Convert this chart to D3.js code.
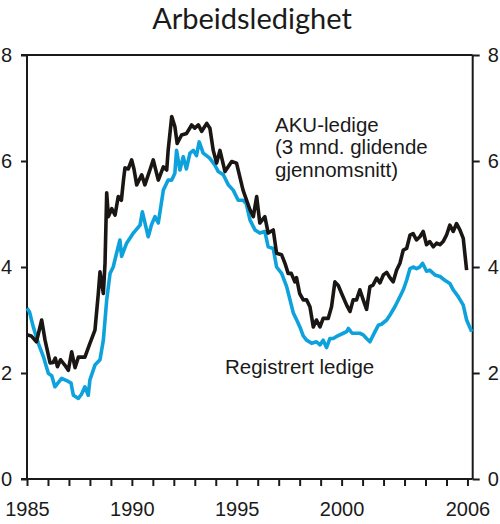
<!DOCTYPE html>
<html>
<head>
<meta charset="utf-8">
<script src="https://cdn.jsdelivr.net/npm/d3@7"></script>
<style>
body { margin: 0; background: #fff; }
svg { display: block; }
</style>
</head>
<body>
<svg id="chart" width="500" height="524"></svg>
<script>
// AKU-ledige, 3 mnd. glidende snitt (prosent av arbeidsstyrken)
var akuYears = [1985.0,1985.2,1985.45,1985.7,1985.86,1986.1,1986.25,1986.35,1986.45,1986.6,1986.8,1986.97,
	1987.13,1987.29,1987.45,1987.76,1988.0,1988.24,1988.4,1988.48,1988.64,1988.72,1988.8,1988.88,
	1989.04,1989.2,1989.35,1989.5,1989.6,1989.67,1989.83,1989.99,1990.1,1990.23,1990.47,1990.62,
	1990.86,1991.02,1991.26,1991.5,1991.66,1991.73,1991.9,1992.05,1992.16,1992.37,1992.61,1992.85,
	1993.0,1993.17,1993.33,1993.57,1993.72,1993.88,1994.04,1994.2,1994.44,1994.76,1994.99,1995.3,
	1995.63,1995.79,1995.95,1996.1,1996.34,1996.5,1996.74,1996.9,1997.14,1997.3,1997.45,1997.6,
	1997.77,1997.85,1998.0,1998.17,1998.33,1998.49,1998.65,1998.8,1998.97,1999.12,1999.36,1999.52,
	1999.68,1999.84,2000.0,2000.24,2000.4,2000.55,2000.71,2000.87,2001.03,2001.19,2001.35,2001.5,
	2001.67,2001.83,2001.99,2002.15,2002.3,2002.46,2002.62,2002.78,2002.94,2003.1,2003.26,2003.41,
	2003.57,2003.73,2003.89,2004.05,2004.2,2004.37,2004.53,2004.69,2004.84,2005.0,2005.16,2005.32,
	2005.48,2005.64,2005.8,2005.96];
var akuValues = [2.72,2.70,2.59,3.00,2.62,2.19,2.20,2.28,2.12,2.25,2.15,2.05,
	2.40,2.10,2.30,2.30,2.56,2.81,3.50,3.91,3.50,4.07,5.40,4.95,
	5.10,4.98,5.33,5.26,5.64,5.87,5.85,6.02,5.85,5.55,5.74,5.55,
	5.83,6.02,5.64,5.89,5.83,6.20,6.84,6.65,6.33,6.49,6.52,6.68,
	6.62,6.68,6.56,6.71,6.62,6.20,5.96,6.20,5.80,5.99,5.96,5.45,
	5.08,4.95,5.33,4.83,4.95,4.64,4.70,4.26,4.23,4.07,3.88,3.88,
	3.72,3.80,3.50,3.38,3.38,3.25,2.87,3.00,2.87,3.03,3.03,3.25,
	3.72,3.65,3.50,3.28,3.16,3.38,3.38,3.57,3.38,3.20,3.63,3.66,
	3.79,3.70,3.85,3.90,3.80,3.72,3.94,4.07,4.32,4.35,4.60,4.63,
	4.51,4.57,4.67,4.42,4.48,4.38,4.45,4.42,4.48,4.60,4.79,4.67,
	4.82,4.70,4.54,3.94];

// Registrert ledige
var regYears = [1985.0,1985.12,1985.3,1985.54,1985.78,1986.02,1986.18,1986.33,1986.65,1986.97,1987.1,1987.21,
	1987.45,1987.6,1987.76,1987.92,1988.0,1988.24,1988.48,1988.64,1988.8,1988.96,1989.11,1989.27,
	1989.43,1989.51,1989.75,1990.07,1990.39,1990.5,1990.78,1990.94,1991.1,1991.26,1991.5,1991.73,
	1991.9,1992.05,1992.13,1992.29,1992.45,1992.6,1992.77,1992.93,1993.08,1993.21,1993.4,1993.56,
	1993.72,1993.96,1994.12,1994.36,1994.6,1994.83,1995.07,1995.3,1995.45,1995.63,1995.87,1996.1,
	1996.34,1996.5,1996.74,1996.9,1997.14,1997.38,1997.54,1997.7,1997.86,1998.01,1998.17,1998.33,
	1998.57,1998.8,1998.97,1999.12,1999.28,1999.44,1999.6,1999.76,2000.08,2000.24,2000.32,2000.5,
	2000.71,2000.87,2001.03,2001.19,2001.35,2001.59,2001.75,2001.9,2002.15,2002.3,2002.54,2002.78,
	2002.94,2003.1,2003.26,2003.41,2003.57,2003.73,2003.86,2004.05,2004.2,2004.45,2004.69,2004.92,
	2005.16,2005.32,2005.56,2005.8,2005.96,2006.2];
var regValues = [3.22,3.15,2.87,2.56,2.31,1.99,1.95,1.74,1.90,1.84,1.81,1.58,
	1.52,1.60,1.74,1.58,1.87,2.15,2.25,2.62,3.38,3.88,4.00,4.26,
	4.51,4.20,4.45,4.64,4.79,5.04,4.57,4.80,4.95,4.83,5.45,5.64,
	5.64,5.77,6.20,5.83,6.08,5.85,6.15,6.20,6.10,6.36,6.15,6.10,
	6.05,5.92,5.80,5.74,5.55,5.45,5.26,5.26,5.20,4.89,4.70,4.64,
	4.67,4.38,4.35,4.00,3.88,3.63,3.38,3.13,3.00,2.87,2.70,2.62,
	2.56,2.59,2.53,2.62,2.48,2.65,2.65,2.69,2.75,2.78,2.84,2.75,
	2.75,2.75,2.72,2.65,2.59,2.78,2.90,2.92,3.00,3.09,3.25,3.44,
	3.57,3.75,3.97,4.00,3.97,4.00,4.07,3.92,3.94,3.85,3.82,3.75,
	3.69,3.57,3.44,3.28,3.00,2.78];

var yTicks = [0,2,4,6,8];
var xTicks = d3.range(1985, 2007);
var xLabels = [1985,1990,1995,2000,2006];

var title = 'Arbeidsledighet';
var akuLabel = ['AKU-ledige','(3 mnd. glidende','gjennomsnitt)'];
var regLabel = 'Registrert ledige';

var font = '"Liberation Sans", Arial, sans-serif';
var svg = d3.select('#chart');

var x = d3.scaleLinear().domain([1985, 2006.25]).range([27, 472.7]);
var y = d3.scaleLinear().domain([0, 8]).range([479, 55]);

//title
svg.append('text')
	.text(title)
	.attr('x', 252)
	.attr('y', 28.5)
	.attr('text-anchor', 'middle')
	.attr('font-family', 'Lato, "Open Sans", sans-serif')
	.attr('font-size', 29)
	.attr('fill', '#1a1a1a');

//top frame line
svg.append('line')
	.attr('x1', 21).attr('x2', x.range()[1])
	.attr('y1', y(8)).attr('y2', y(8))
	.attr('stroke', '#1a1a1a')
	.attr('stroke-width', 2);

//left axis
var left = svg.append('g')
	.attr('transform', 'translate(' + x.range()[0] + ',0)')
	.call(d3.axisLeft(y).tickValues(yTicks).tickSize(6).tickPadding(9).tickFormat(d3.format('d')));

//right axis
var right = svg.append('g')
	.attr('transform', 'translate(' + x.range()[1] + ',0)')
	.call(d3.axisRight(y).tickValues(yTicks).tickSize(7).tickPadding(8).tickFormat(d3.format('d')));

//bottom axis, labels only on some years
var bottom = svg.append('g')
	.attr('transform', 'translate(0,' + y(0) + ')')
	.call(d3.axisBottom(x).tickValues(xTicks).tickSize(7)
		.tickFormat(function(d){ return xLabels.indexOf(d) >= 0 ? d : ''; }));

bottom.selectAll('text')
	.attr('y', 37)
	.attr('dy', null);

[left, right, bottom].forEach(function(g){
	g.select('.domain')
		.attr('stroke', '#1a1a1a')
		.attr('stroke-width', 2);
	g.selectAll('.tick line')
		.attr('stroke', '#1a1a1a')
		.attr('stroke-width', 2);
	g.selectAll('text')
		.attr('font-family', font)
		.attr('font-size', 20)
		.attr('fill', '#1a1a1a');
});
left.select('.domain').attr('d', 'M-6,' + y(0) + 'H0V' + y(8));
right.select('.domain').attr('d', 'M0,' + y(8) + 'V' + y(0));
bottom.select('.domain').attr('d', 'M' + x.range()[0] + ',0H' + x.range()[1]);

var line = d3.line()
	.x(function(d){ return x(d[0]); })
	.y(function(d){ return y(d[1]); });

//series
svg.append('path')
	.datum(d3.zip(regYears, regValues))
	.attr('d', line)
	.attr('fill', 'none')
	.attr('stroke', '#0ea2dc')
	.attr('stroke-width', 3.6)
	.attr('stroke-linejoin', 'round');

svg.append('path')
	.datum(d3.zip(akuYears, akuValues))
	.attr('d', line)
	.attr('fill', 'none')
	.attr('stroke', '#1a1614')
	.attr('stroke-width', 3.6)
	.attr('stroke-linejoin', 'round');

//labels on the lines
svg.append('g')
	.selectAll('text')
	.data(akuLabel)
	.enter()
	.append('text')
	.text(function(d){ return d; })
	.attr('x', 275)
	.attr('y', function(d,i){ return 131.7 + i*22.5; })
	.attr('font-family', font)
	.attr('font-size', 20.5)
	.attr('fill', '#1a1a1a');

svg.append('text')
	.text(regLabel)
	.attr('x', 225)
	.attr('y', 374)
	.attr('font-family', font)
	.attr('font-size', 20.5)
	.attr('fill', '#1a1a1a');
</script>
</body>
</html>
